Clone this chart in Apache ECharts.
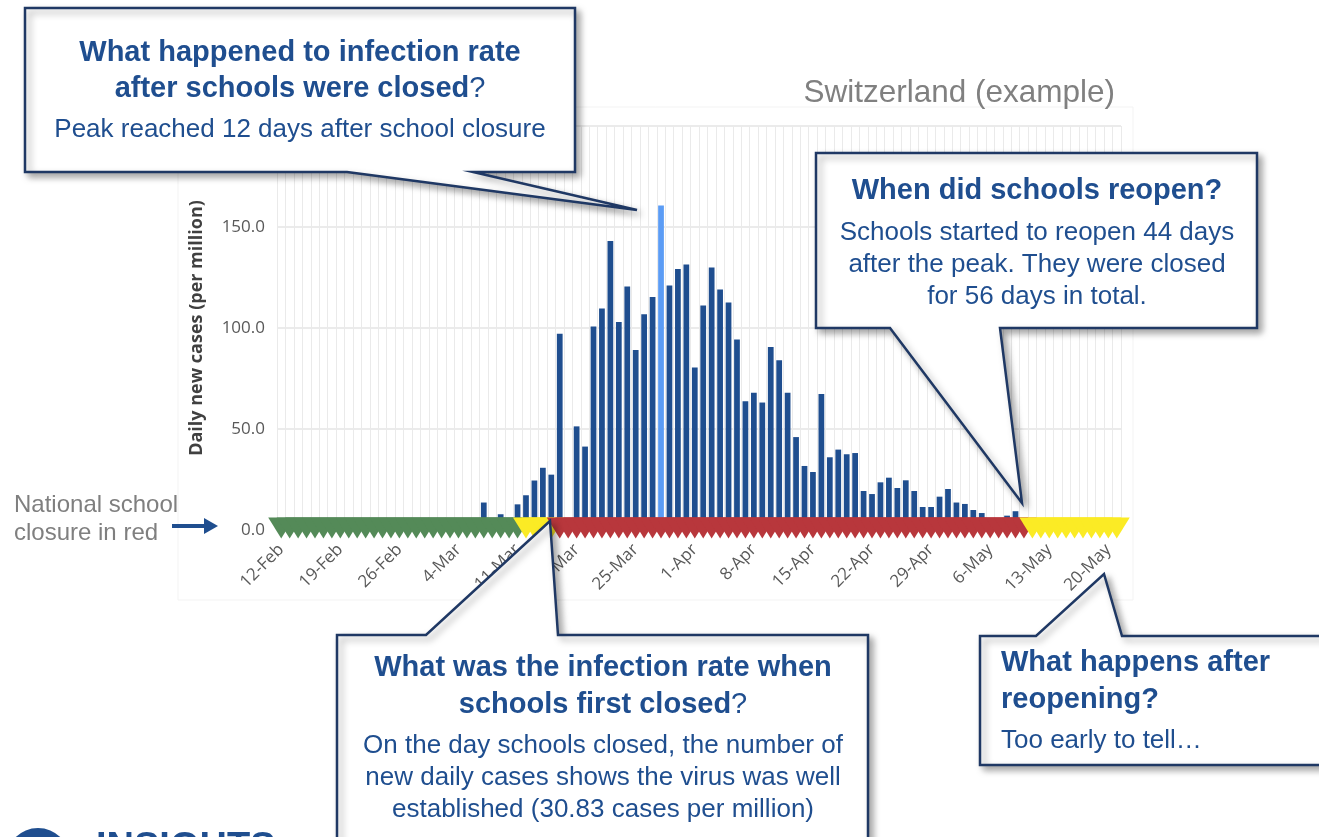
<!DOCTYPE html>
<html>
<head>
<meta charset="utf-8">
<script src="https://cdn.jsdelivr.net/npm/echarts@6/dist/echarts.min.js"></script>
<style>
  html, body { margin: 0; padding: 0; background: #ffffff; }
  #chart { width: 1319px; height: 837px; }
</style>
</head>
<body>
<div id="chart"></div>
<script>
// one category per day, 12-Feb .. 21-May
const dates = [
  '12-Feb', '13-Feb', '14-Feb', '15-Feb', '16-Feb', '17-Feb', '18-Feb', '19-Feb', '20-Feb', '21-Feb',
  '22-Feb', '23-Feb', '24-Feb', '25-Feb', '26-Feb', '27-Feb', '28-Feb', '29-Feb',
  '1-Mar', '2-Mar', '3-Mar', '4-Mar', '5-Mar', '6-Mar', '7-Mar', '8-Mar', '9-Mar', '10-Mar',
  '11-Mar', '12-Mar', '13-Mar', '14-Mar', '15-Mar', '16-Mar', '17-Mar', '18-Mar', '19-Mar', '20-Mar',
  '21-Mar', '22-Mar', '23-Mar', '24-Mar', '25-Mar', '26-Mar', '27-Mar', '28-Mar', '29-Mar', '30-Mar', '31-Mar',
  '1-Apr', '2-Apr', '3-Apr', '4-Apr', '5-Apr', '6-Apr', '7-Apr', '8-Apr', '9-Apr', '10-Apr',
  '11-Apr', '12-Apr', '13-Apr', '14-Apr', '15-Apr', '16-Apr', '17-Apr', '18-Apr', '19-Apr', '20-Apr',
  '21-Apr', '22-Apr', '23-Apr', '24-Apr', '25-Apr', '26-Apr', '27-Apr', '28-Apr', '29-Apr', '30-Apr',
  '1-May', '2-May', '3-May', '4-May', '5-May', '6-May', '7-May', '8-May', '9-May', '10-May',
  '11-May', '12-May', '13-May', '14-May', '15-May', '16-May', '17-May', '18-May', '19-May', '20-May', '21-May'
]

// daily new cases per million
const newCases = [
  0, 0, 0, 0, 0, 0, 0, 0, 0, 0,
  0, 0, 0, 0, 0, 0, 0, 0, 0, 0,
  0, 0, 0, 0, 13.6, 0, 7.8, 0, 12.7, 17.2,
  24.5, 30.8, 27.4, 97.2, 0, 51.3, 41.3, 100.8, 109.6, 143.1,
  103.0, 120.6, 89.1, 106.8, 115.3, 160.6, 121.1, 129.2, 131.4, 80.5,
  111.1, 129.9, 119.0, 112.6, 94.3, 63.7, 68.0, 63.1, 90.6, 84.0,
  68.0, 46.0, 31.7, 28.7, 67.3, 36.0, 39.8, 37.5, 38.1, 19.3,
  17.8, 23.6, 25.9, 20.8, 24.6, 19.3, 11.4, 11.4, 16.5, 20.3,
  13.6, 12.9, 9.9, 8.4, 0, 0, 7.1, 9.3, 0, 0,
  0, 0, 0, 0, 0, 0, 0, 0, 0, 0
]

const peakDate = '28-Mar'

// school status as runs of days: open, partial, closed, partial
const statusRuns = [['open', 29], ['partial', 4], ['closed', 56], ['partial', 11]]
const statusColors = { open: '#548A58', partial: '#FBEB25', closed: '#B8373C' }

const yTicks = [0, 50, 100, 150, 200]

const navy = '#1F4E8F'
const border = '#1F3864'
const FONT = '"Liberation Sans", Arial, sans-serif'

const dayStatus = []
statusRuns.forEach(([s, n]) => { for (let k = 0; k < n; k++) dayStatus.push(s) })

const barData = newCases.map((v, i) =>
  dates[i] === peakDate ? { value: v, itemStyle: { color: '#5B9CF5' } } : v
)
const stripData = dates.map((d, i) => ({
  value: [d, 0],
  itemStyle: { color: statusColors[dayStatus[i]], opacity: 1 }
}))

const shadow = {
  shadowBlur: 7,
  shadowOffsetX: 4,
  shadowOffsetY: 4,
  shadowColor: 'rgba(0,0,0,0.35)'
}

const callout = points => ({
  type: 'polygon',
  z: 100,
  shape: { points },
  style: Object.assign({ fill: '#ffffff', stroke: border, lineWidth: 2.5 }, shadow)
})

const txt = (x, y, text, opts = {}) => ({
  type: 'text',
  z: 101,
  x,
  y,
  style: Object.assign({
    text,
    fill: navy,
    font: '26px ' + FONT,
    align: 'center',
    verticalAlign: 'middle'
  }, opts)
})

const bold = '700 29px ' + FONT
const boldQ = {
  b: { font: bold, fill: navy },
  n: { font: '29px ' + FONT, fill: navy }
}

const chart = echarts.init(document.getElementById('chart'))

chart.setOption({
  animation: false,
  grid: { left: 277, right: 198, top: 126, bottom: 307, containLabel: false },
  xAxis: {
    type: 'category',
    data: dates,
    axisLine: { show: false },
    axisTick: { show: false },
    axisLabel: {
      interval: 6,
      rotate: 45,
      margin: 17,
      color: '#595959',
      fontSize: 17,
      fontFamily: 'Open Sans'
    },
    splitLine: { show: true, interval: 0, lineStyle: { color: '#EAEAEA', width: 1 } }
  },
  yAxis: {
    type: 'value',
    min: yTicks[0],
    max: yTicks[yTicks.length - 1],
    interval: yTicks[1] - yTicks[0],
    axisLine: { show: false },
    axisTick: { show: false },
    axisLabel: {
      margin: 12,
      color: '#595959',
      fontSize: 17,
      fontFamily: 'Open Sans',
      formatter: v => v.toFixed(1)
    },
    splitLine: { lineStyle: { color: '#E4E4E4', width: 1.5 } },
    name: 'Daily new cases (per million)',
    nameLocation: 'middle',
    nameRotate: 90,
    nameGap: 71,
    nameTextStyle: { color: '#404040', fontSize: 18, fontWeight: 'bold', fontFamily: 'Open Sans' }
  },
  series: [
    {
      type: 'bar',
      data: barData,
      barWidth: '68%',
      itemStyle: { color: navy },
      z: 2
    },
    {
      type: 'scatter',
      data: stripData,
      symbol: 'path://M0,0 L2,0 L1,2 Z',
      symbolKeepAspect: false,
      symbolSize: [26, 21],
      symbolOffset: [0, -2],
      z: 5,
      silent: true
    }
  ],
  graphic: [
    {
      type: 'rect',
      z: -1,
      shape: { x: 178, y: 107, width: 955, height: 493 },
      style: { fill: 'none', stroke: '#F3F3F3', lineWidth: 1 }
    },
    // title
    txt(1115, 93, 'Switzerland (example)', {
      fill: '#808080', align: 'right', font: '31.5px ' + FONT
    }),
    // closure note with arrow
    txt(14, 505, 'National school', {
      fill: '#7F7F7F', align: 'left', font: '24px ' + FONT
    }),
    txt(14, 533, 'closure in red', {
      fill: '#7F7F7F', align: 'left', font: '24px ' + FONT
    }),
    {
      type: 'polygon',
      z: 100,
      shape: { points: [[172, 524], [204, 524], [204, 518], [218, 526], [204, 534], [204, 528], [172, 528]] },
      style: { fill: navy }
    },
    // callout: after schools were closed
    callout([[25, 8], [575, 8], [575, 172], [473, 172], [637, 210], [347, 172], [25, 172]]),
    txt(300, 53, 'What happened to infection rate', { font: bold }),
    txt(300, 89, '{b|after schools were closed}{n|?}', { rich: boldQ }),
    txt(300, 130, 'Peak reached 12 days after school closure'),
    // callout: reopening
    callout([[816, 153], [1257, 153], [1257, 328], [1000, 328], [1022, 503], [890, 328], [816, 328]]),
    txt(1037, 191, 'When did schools reopen?', { font: bold }),
    txt(1037, 233, 'Schools started to reopen 44 days'),
    txt(1037, 265, 'after the peak. They were closed'),
    txt(1037, 297, 'for 56 days in total.'),
    // callout: first closed
    callout([[337, 635], [426, 635], [550, 521], [558, 635], [868, 635], [868, 860], [337, 860]]),
    txt(603, 668, 'What was the infection rate when', { font: bold }),
    txt(603, 705, '{b|schools first closed}{n|?}', { rich: boldQ }),
    txt(603, 746, 'On the day schools closed, the number of'),
    txt(603, 778, 'new daily cases shows the virus was well'),
    txt(603, 810, 'established (30.83 cases per million)'),
    // callout: after reopening
    callout([[980, 636], [1036, 636], [1104, 574], [1122, 636], [1335, 636], [1335, 765], [980, 765]]),
    txt(1001, 663, 'What happens after', { font: bold, align: 'left' }),
    txt(1001, 700, 'reopening?', { font: bold, align: 'left' }),
    txt(1001, 741, 'Too early to tell\u2026', { align: 'left' }),
    // logo, cut off at the bottom
    {
      type: 'circle',
      z: 100,
      shape: { cx: 38, cy: 860, r: 32 },
      style: { fill: navy }
    },
    txt(96, 830, 'INSIGHTS', {
      align: 'left', verticalAlign: 'top', font: '800 38px ' + FONT
    })
  ]
})
</script>
</body>
</html>
